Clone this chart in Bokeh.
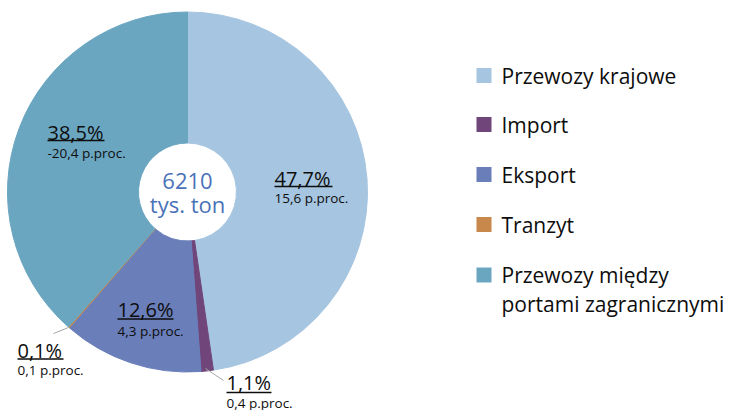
import math
from bokeh.plotting import figure
from bokeh.models import Range1d, ColumnDataSource
from bokeh.core.properties import value
from bokeh.embed import file_html
from bokeh.resources import INLINE

# ---- data ----
categories = ["Przewozy krajowe", "Import", "Eksport", "Tranzyt",
              "Przewozy między portami zagranicznymi"]
legend_labels = ["Przewozy krajowe", "Import", "Eksport", "Tranzyt",
                 "Przewozy między\nportami zagranicznymi"]
shares = [47.7, 1.1, 12.6, 0.1, 38.5]
share_labels = ["47,7%", "1,1%", "12,6%", "0,1%", "38,5%"]
change_labels = ["15,6 p.proc.", "0,4 p.proc.", "4,3 p.proc.", "0,1 p.proc.", "-20,4 p.proc."]
total_label = "6210"
unit_label = "tys. ton"

# ---- styles / layout (page pixels, y downward) ----
colors = ["#A6C5E0", "#70467A", "#6A7FBA", "#C8884B", "#6BA6C1"]
FONT = "Open Sans"
TXT = "#0D0D0D"
W, H = 729, 410
cx, cy = 187, 191.5
R_OUT, R_IN = 180, 49

lab_x = [274, 226, 117, 17, 47]
lab_mid = [177.7, 382, 309, 350, 131.7]
sub_mid = [197.5, 402, 330.5, 369.5, 152.3]
ul_y = [186, 392, 318.5, 358.5, 140]
ul_w = [58, 45, 56, 46, 57]

def Y(v):
    return -v

p = figure(width=W, height=H, x_range=Range1d(0, W), y_range=Range1d(-H, 0),
           output_backend="svg", toolbar_location=None, min_border=0)
p.axis.visible = False
p.grid.visible = False
p.outline_line_color = None

# wedges (clockwise from 12 o'clock)
tot = sum(shares)
starts, ends = [], []
acc = 0.0
for s in shares:
    starts.append(math.pi / 2 - 2 * math.pi * acc / tot)
    acc += s
    ends.append(math.pi / 2 - 2 * math.pi * acc / tot)
src = ColumnDataSource(dict(start=starts, end=ends, color=colors, cat=categories))
p.annular_wedge(x=cx, y=Y(cy), inner_radius=R_IN, outer_radius=R_OUT,
                start_angle="start", end_angle="end", direction="clock",
                fill_color="color", line_color="color", line_width=1, source=src)

# leader lines for small slices
p.segment(x0=[205, 53], y0=[Y(368), Y(333)], x1=[223, 68], y1=[Y(380), Y(327)],
          line_color="#A6A6A6", line_width=1)

# data labels
p.text(x=lab_x, y=[Y(v) for v in lab_mid], text=share_labels, text_font=value(FONT),
       text_font_size="20px", text_color=TXT, text_baseline="middle")
p.segment(x0=lab_x, x1=[x + w for x, w in zip(lab_x, ul_w)],
          y0=[Y(v) for v in ul_y], y1=[Y(v) for v in ul_y],
          line_color=TXT, line_width=1.5)
p.text(x=lab_x, y=[Y(v) for v in sub_mid], text=change_labels, text_font=value(FONT),
       text_font_size="13.5px", text_color=TXT, text_baseline="middle")

# centre text
p.text(x=[cx, cx], y=[Y(180.5), Y(203.5)], text=[total_label, unit_label],
       text_font=value(FONT), text_font_size="22px", text_color="#4A72B8",
       text_align="center", text_baseline="middle")

# legend
leg_y = [75, 124, 174, 224, 274.5]
p.rect(x=[483.5] * len(colors), y=[Y(v) for v in leg_y], width=15, height=15,
       fill_color=colors, line_color=None)
tx, ty, tt = [], [], []
for yv, lab in zip(leg_y, legend_labels):
    for i, line in enumerate(lab.split("\n")):
        tx.append(501)
        ty.append(Y(yv + 29 * i))
        tt.append(line)
p.text(x=tx, y=ty, text=tt, text_font=value(FONT), text_font_size="21px",
       text_color=TXT, text_baseline="middle")

open("out.html", "w").write(file_html(p, INLINE))
